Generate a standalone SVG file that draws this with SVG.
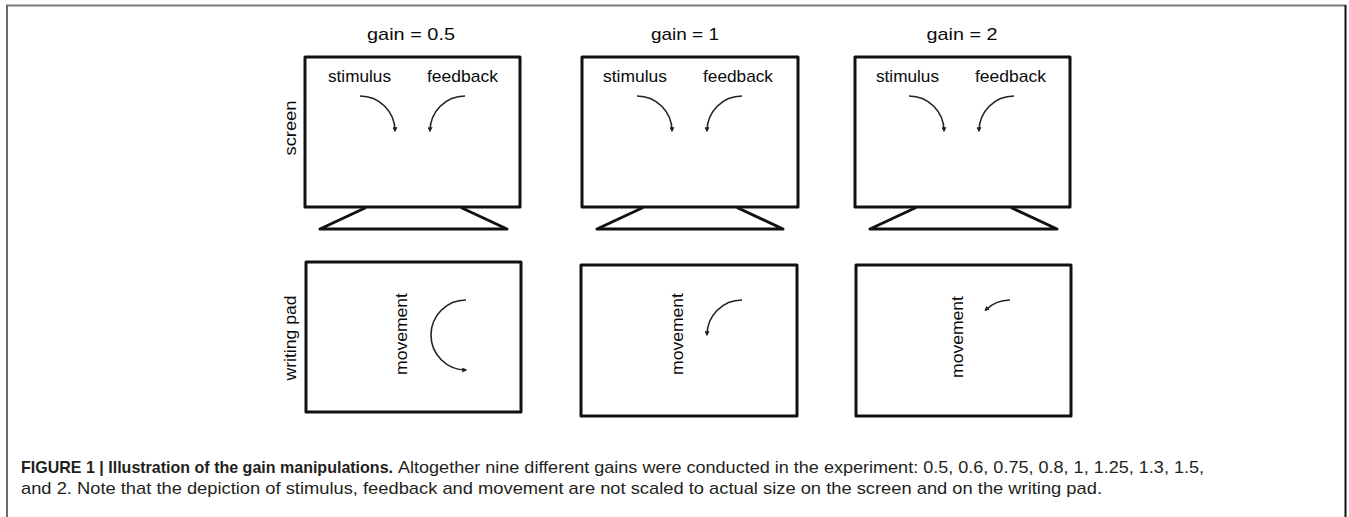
<svg xmlns="http://www.w3.org/2000/svg" width="1349" height="517" viewBox="0 0 1349 517">
  <style>
    .lbl { font-family: "Liberation Sans", Arial, sans-serif; font-size: 17px; fill: #0a0a0a; }
    .box { fill: #fff; stroke: #111; stroke-width: 3; stroke-linejoin: round; }
    .stand { fill: none; stroke: #111; stroke-width: 3; stroke-linejoin: round; stroke-linecap: round; }
    .arc { fill: none; stroke: #222; stroke-width: 1.6; }
    .cap { font-family: "Liberation Sans", Arial, sans-serif; font-size: 17px; fill: #231f20; }
    .capb { font-weight: bold; }
  </style>
  <defs>
    <marker id="tip" viewBox="0 0 8 8" refX="6" refY="4" markerWidth="5" markerHeight="5" markerUnits="userSpaceOnUse" orient="auto">
      <path d="M0,0 L8,4 L0,8 Z" fill="#222"/>
    </marker>
  </defs>

  <rect width="1349" height="517" fill="#fff"/>

  <!-- figure frame -->
  <g id="frame">
    <line x1="6" y1="5.5" x2="1346" y2="5.5" stroke="#7a7a7a" stroke-width="2"/>
    <line x1="7" y1="5" x2="7" y2="517" stroke="#6a6a6a" stroke-width="2"/>
    <line x1="1345.5" y1="5" x2="1345.5" y2="517" stroke="#111" stroke-width="2"/>
  </g>

  <!-- row labels -->
  <g id="row-labels">
    <text class="lbl" text-anchor="middle" transform="translate(296,128) rotate(-90)" textLength="55" lengthAdjust="spacingAndGlyphs">screen</text>
    <text class="lbl" text-anchor="middle" transform="translate(296,338) rotate(-90)" textLength="85" lengthAdjust="spacingAndGlyphs">writing pad</text>
  </g>

  <!-- gain = 0.5 -->
  <g id="screen-1">
    <text class="lbl" x="411" y="40" text-anchor="middle" textLength="88" lengthAdjust="spacingAndGlyphs">gain = 0.5</text>
    <rect class="box" x="305" y="57" width="215" height="150"/>
    <polyline class="stand" points="365,208 320,229 507,229 462,208"/>
    <text class="lbl" x="328" y="82" textLength="63" lengthAdjust="spacingAndGlyphs">stimulus</text>
    <text class="lbl" x="427" y="82" textLength="71" lengthAdjust="spacingAndGlyphs">feedback</text>
  </g>
  <g id="pad-1">
    <rect class="box" x="306" y="262" width="215" height="150"/>
    <text class="lbl" text-anchor="middle" transform="translate(407,334) rotate(-90)" textLength="82" lengthAdjust="spacingAndGlyphs">movement</text>
  </g>

  <!-- gain = 1 -->
  <g id="screen-2">
    <text class="lbl" x="685" y="40" text-anchor="middle" textLength="68" lengthAdjust="spacingAndGlyphs">gain = 1</text>
    <rect class="box" x="582" y="57" width="216" height="150"/>
    <polyline class="stand" points="642,208 597,229 783,229 738,208"/>
    <text class="lbl" x="603" y="82" textLength="64" lengthAdjust="spacingAndGlyphs">stimulus</text>
    <text class="lbl" x="703" y="82" textLength="70" lengthAdjust="spacingAndGlyphs">feedback</text>
  </g>
  <g id="pad-2">
    <rect class="box" x="581" y="265" width="216" height="151"/>
    <text class="lbl" text-anchor="middle" transform="translate(683,334) rotate(-90)" textLength="82" lengthAdjust="spacingAndGlyphs">movement</text>
  </g>

  <!-- gain = 2 -->
  <g id="screen-3">
    <text class="lbl" x="962" y="40" text-anchor="middle" textLength="71" lengthAdjust="spacingAndGlyphs">gain = 2</text>
    <rect class="box" x="855" y="57" width="215" height="150"/>
    <polyline class="stand" points="915,208 870,229 1057,229 1012,208"/>
    <text class="lbl" x="876" y="82" textLength="63" lengthAdjust="spacingAndGlyphs">stimulus</text>
    <text class="lbl" x="975" y="82" textLength="71" lengthAdjust="spacingAndGlyphs">feedback</text>
  </g>
  <g id="pad-3">
    <rect class="box" x="856" y="265" width="215" height="151"/>
    <text class="lbl" text-anchor="middle" transform="translate(963,337) rotate(-90)" textLength="82" lengthAdjust="spacingAndGlyphs">movement</text>
  </g>

  <!-- stimulus, feedback and movement paths -->
  <g id="connectors">
    <path class="arc" marker-end="url(#tip)" d="M360,96 A35,35 0 0 1 395,131"/>
    <path class="arc" marker-end="url(#tip)" d="M465,96 A35,35 0 0 0 430,131"/>
    <path class="arc" marker-end="url(#tip)" d="M637,96 A35,35 0 0 1 672,131"/>
    <path class="arc" marker-end="url(#tip)" d="M742,96 A35,35 0 0 0 707,131"/>
    <path class="arc" marker-end="url(#tip)" d="M909,96 A35,35 0 0 1 944,131"/>
    <path class="arc" marker-end="url(#tip)" d="M1014,96 A35,35 0 0 0 979,131"/>
    <path class="arc" marker-end="url(#tip)" d="M466,300 A35,35 0 0 0 466,370"/>
    <path class="arc" marker-end="url(#tip)" d="M742,300 A35,35 0 0 0 707,335"/>
    <path class="arc" marker-end="url(#tip)" d="M1010,300 A35,35 0 0 0 985.3,310.3"/>
  </g>

  <!-- caption -->
  <g id="caption">
    <text class="cap capb" x="21" y="473" textLength="372" lengthAdjust="spacingAndGlyphs">FIGURE 1 | Illustration of the gain manipulations.</text>
    <text class="cap" x="398" y="473" textLength="806" lengthAdjust="spacingAndGlyphs">Altogether nine different gains were conducted in the experiment: 0.5, 0.6, 0.75, 0.8, 1, 1.25, 1.3, 1.5,</text>
    <text class="cap" x="21" y="494" textLength="1081" lengthAdjust="spacingAndGlyphs">and 2. Note that the depiction of stimulus, feedback and movement are not scaled to actual size on the screen and on the writing pad.</text>
  </g>
</svg>
